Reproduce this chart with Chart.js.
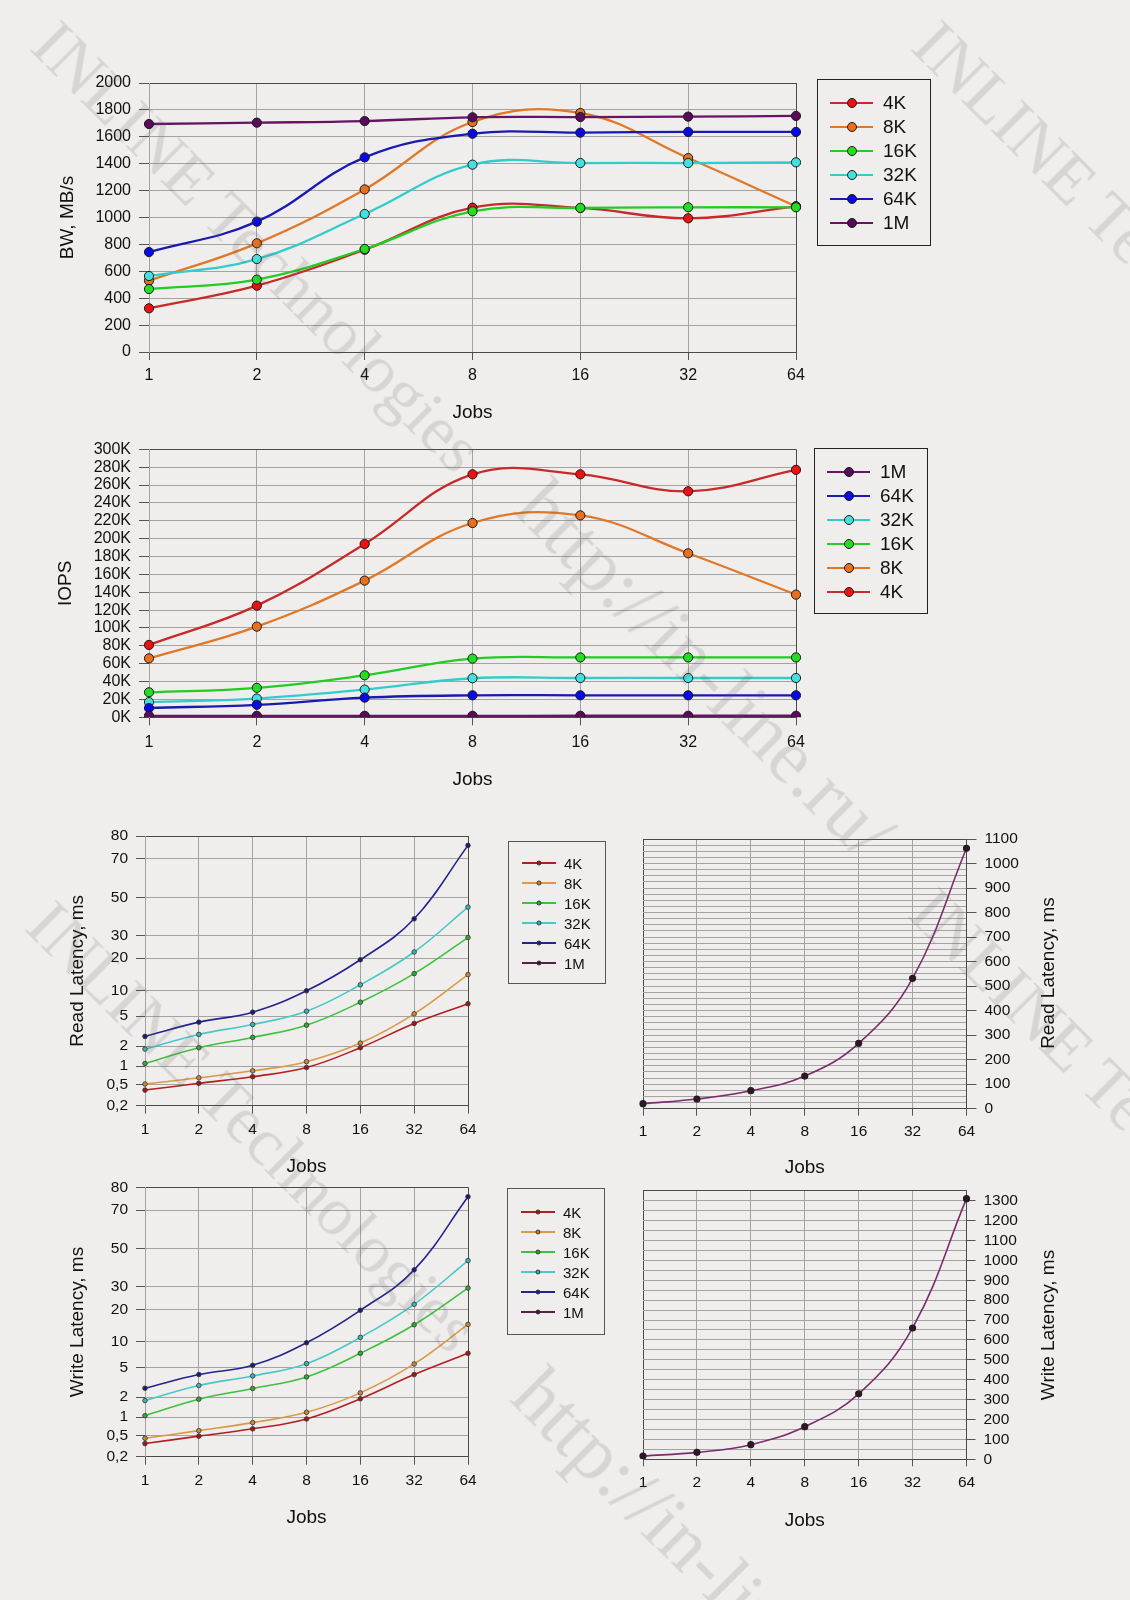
<!DOCTYPE html>
<html lang="en">
<head>
  <meta charset="UTF-8">
  <title>Jobs scaling: BW, IOPS and latency</title>
  <script src="https://cdn.jsdelivr.net/npm/chart.js"></script>
  <style>
    body {
      margin: 0;
      background: #efeeec;
      font-family: 'Liberation Sans', Arial, sans-serif;
      color: #111;
    }
    .page {
      position: relative;
      width: 1130px;
      height: 1600px;
      overflow: hidden;
    }
    canvas {
      position: absolute;
    }
    .legend {
      position: absolute;
      box-sizing: border-box;
      border: 1px solid #222;
    }
    .legend .row {
      display: flex;
      align-items: center;
    }
    .legend .sw {
      position: relative;
      display: inline-block;
    }
    .legend .sw i {
      position: absolute;
      left: 50%;
      top: 50%;
      box-sizing: border-box;
      border-radius: 50%;
      transform: translate(-50%, -50%);
      border: 1px solid #1a1a1a;
    }
    .legend.big { padding: 11px 0 0 12px; font-size: 19px; }
    .legend.big .row { height: 24px; }
    .legend.big .sw { width: 43px; height: 2px; margin-right: 10px; }
    .legend.big .sw i { width: 10px; height: 10px; }
    .legend.small { padding: 11px 0 0 13px; font-size: 15px; border-color: #555; }
    .legend.small .row { height: 20px; }
    .legend.small .sw { width: 34px; height: 2px; margin-right: 8px; }
    .legend.small .sw i { width: 5px; height: 5px; border-width: 0.8px; border-color: #333; }
    .side-title {
      position: absolute;
      font-size: 19px;
      white-space: nowrap;
      transform: translate(-50%, -50%) rotate(-90deg);
    }
    .wm {
      position: absolute;
      transform-origin: 0 0;
      transform: rotate(45deg);
      font-family: 'Liberation Serif', 'DejaVu Serif', serif;
      font-size: 68px;
      color: rgba(90, 90, 90, 0.16);
      white-space: nowrap;
      pointer-events: none;
      z-index: 5;
    }
    .wm.url { font-size: 78px; }
  </style>
</head>
<body>
<div class="page">
  <canvas id="bwChart" width="820" height="400" style="left:0;top:40px"></canvas>
  <canvas id="iopsChart" width="820" height="380" style="left:0;top:420px"></canvas>
  <canvas id="readChart" width="490" height="390" style="left:0;top:800px"></canvas>
  <canvas id="read1mChart" width="460" height="390" style="left:600px;top:800px"></canvas>
  <canvas id="writeChart" width="490" height="390" style="left:0;top:1160px"></canvas>
  <canvas id="write1mChart" width="460" height="400" style="left:600px;top:1160px"></canvas>

  <div class="legend big" id="bwLegend" style="left:817px;top:79px;width:114px;height:167px"></div>
  <div class="legend big" id="iopsLegend" style="left:814px;top:448px;width:114px;height:166px"></div>
  <div class="legend small" id="readLegend" style="left:508px;top:841px;width:98px;height:143px"></div>
  <div class="legend small" id="writeLegend" style="left:507px;top:1188px;width:98px;height:147px;padding-top:13px"></div>

  <div class="side-title" style="left:1048px;top:973px">Read Latency, ms</div>
  <div class="side-title" style="left:1048px;top:1325px">Write Latency, ms</div>

  <div class="wm" style="left:72px;top:5px">INLINE Technologies</div>
  <div class="wm" style="left:953px;top:5px">INLINE Technologies</div>
  <div class="wm url" style="left:562px;top:462px">http://in-line.ru/</div>
  <div class="wm" style="left:67px;top:885px">INLINE Technologies</div>
  <div class="wm" style="left:950px;top:872px">INLINE Technologies</div>
  <div class="wm url" style="left:558px;top:1350px">http://in-line.ru/</div>
</div>

<script>
  const jobs = ['1', '2', '4', '8', '16', '32', '64'];
  const sizes = ['4K', '8K', '16K', '32K', '64K', '1M'];

  // bandwidth, MB/s
  const bw4K = [325, 493, 760, 1073, 1071, 994, 1083];
  const bw8K = [530, 808, 1209, 1710, 1777, 1442, 1083];
  const bw16K = [468, 538, 766, 1046, 1071, 1076, 1076];
  const bw32K = [565, 691, 1026, 1393, 1405, 1405, 1410];
  const bw64K = [743, 969, 1447, 1623, 1631, 1636, 1636];
  const bw1M = [1695, 1705, 1717, 1745, 1747, 1750, 1755];

  // IOPS, thousands
  const iops4K = [81, 125, 194, 272, 272, 253, 277];
  const iops8K = [66, 101.5, 153, 217.5, 226, 183.6, 137.3];
  const iops16K = [28, 33, 47, 65.7, 67, 67, 67];
  const iops32K = [17, 21, 31, 43.7, 44, 44, 44];
  const iops64K = [10.4, 14, 22, 24.6, 24.6, 24.6, 24.6];
  const iops1M = [1.65, 1.66, 1.68, 1.7, 1.71, 1.71, 1.71];

  // read latency, ms
  const rd4K = [0.42, 0.53, 0.71, 0.96, 1.92, 4.27, 7.4];
  const rd8K = [0.51, 0.68, 0.87, 1.22, 2.3, 5.45, 14.9];
  const rd16K = [1.13, 1.92, 2.87, 4.1, 7.7, 15.2, 29];
  const rd32K = [1.85, 3.17, 4.17, 5.96, 11.7, 22.7, 44.9];
  const rd64K = [2.97, 4.4, 5.77, 9.9, 19.5, 38.7, 75.9];
  const rd1M = [20.4, 39.4, 73.4, 133, 266.5, 531.6, 1062];

  // write latency, ms
  const wr4K = [0.385, 0.49, 0.68, 0.95, 1.92, 4.27, 7.7];
  const wr8K = [0.46, 0.63, 0.85, 1.24, 2.43, 5.64, 15.3];
  const wr16K = [1.07, 1.9, 2.87, 4.03, 7.7, 15.2, 29.3];
  const wr32K = [1.83, 3.17, 4.13, 5.7, 11.25, 22.2, 43.7];
  const wr64K = [2.9, 4.27, 5.38, 9.74, 19.7, 38.8, 75.9];
  const wr1M = [16.7, 35, 73.5, 164, 329, 660, 1310];

  // the small latency charts use an uneven hand-made axis
  const latencyTicks = [0.2, 0.5, 1, 2, 5, 10, 20, 30, 50, 70, 80];
  const latencyStops = [0, 0.079, 0.147, 0.221, 0.332, 0.428, 0.547, 0.632, 0.772, 0.915, 1];

  const bigLines = ['#c82a2a', '#e07828', '#22cc22', '#33cccc', '#1a1ab0', '#661466'];
  const bigFills = ['#ee1111', '#e6701e', '#22dd22', '#44e0e0', '#0a0ae6', '#5a0a5a'];
  const smallLines = ['#b02020', '#d99a48', '#40c040', '#48c8c8', '#24248c', '#5c2048'];
  const smallFills = ['#a01818', '#c8883a', '#36a836', '#3cb4b4', '#1a1a7a', '#3a1030'];

  const gridGray = '#a3a3a3';
  const frameGray = '#4a4a4a';

  class StretchScale extends Chart.LinearScale {
    static id = 'stretch';
    static defaults = {};
    determineDataLimits() {
      this.min = latencyTicks[0];
      this.max = latencyTicks[latencyTicks.length - 1];
    }
    buildTicks() {
      return latencyTicks.map(v => ({ value: v }));
    }
    getPixelForValue(value) {
      let i = 1;
      while (i < latencyTicks.length - 1 && value > latencyTicks[i]) i++;
      const a = latencyTicks[i - 1], b = latencyTicks[i];
      const t = (value - a) / (b - a);
      return this.getPixelForDecimal(latencyStops[i - 1] + t * (latencyStops[i] - latencyStops[i - 1]));
    }
    getValueForPixel(pixel) {
      const d = this.getDecimalForPixel(pixel);
      let i = 1;
      while (i < latencyStops.length - 1 && d > latencyStops[i]) i++;
      const t = (d - latencyStops[i - 1]) / (latencyStops[i] - latencyStops[i - 1]);
      return latencyTicks[i - 1] + t * (latencyTicks[i] - latencyTicks[i - 1]);
    }
  }
  Chart.register(StretchScale);

  Chart.defaults.font.family = "'Liberation Sans', Arial, sans-serif";
  Chart.defaults.color = '#111';
  Chart.defaults.animation = false;
  Chart.defaults.responsive = false;
  Chart.defaults.devicePixelRatio = 1;
  Chart.defaults.plugins.legend.display = false;
  Chart.defaults.plugins.tooltip.enabled = false;

  function jobsAxis(o) {
    return {
      type: 'category',
      offset: false,
      grid: {
        offset: false,
        color: c => (c.index === jobs.length - 1 || (o.frameLeft && c.index === 0)) ? frameGray : gridGray,
        tickLength: o.tl,
        tickColor: '#555'
      },
      border: { color: frameGray },
      ticks: { padding: o.pad, font: { size: o.size }, maxRotation: 0, autoSkip: false },
      title: { display: true, text: 'Jobs', font: { size: 19 }, padding: { top: 0, bottom: 0 } },
      afterFit: s => { s.height = o.h; }
    };
  }

  function bigSet(i, data) {
    return {
      label: sizes[i],
      data: data,
      borderColor: bigLines[i],
      borderWidth: 2.3,
      pointBackgroundColor: bigFills[i],
      pointBorderColor: '#1a1a1a',
      pointBorderWidth: 1,
      pointRadius: 4.6,
      tension: 0.4,
      fill: false,
      order: sizes.length - i
    };
  }

  function smallSet(i, data) {
    return {
      label: sizes[i],
      data: data,
      borderColor: smallLines[i],
      borderWidth: 1.6,
      pointBackgroundColor: smallFills[i],
      pointBorderColor: '#333',
      pointBorderWidth: 0.8,
      pointRadius: 2.3,
      tension: 0.4,
      fill: false
    };
  }

  // BW chart
  const bwSeries = [bw4K, bw8K, bw16K, bw32K, bw64K, bw1M];
  new Chart(document.getElementById('bwChart'), {
    type: 'line',
    data: { labels: jobs, datasets: bwSeries.map((d, i) => bigSet(i, d)) },
    options: {
      layout: { padding: { left: 50, top: 43, right: 24, bottom: 15.6 } },
      scales: {
        x: jobsAxis({ tl: 8, pad: 6.4, size: 16, h: 72.4 }),
        y: {
          min: 0, max: 2000,
          ticks: { stepSize: 200, padding: 8, autoSkip: false, font: { size: 16 }, callback: v => String(v) },
          grid: { color: c => c.tick.value === 2000 ? frameGray : gridGray, tickLength: 10, tickColor: '#555' },
          border: { color: gridGray },
          title: { display: true, text: 'BW, MB/s', font: { size: 19 }, padding: { top: 6.6, bottom: 0 } },
          afterFit: s => { s.width = 99; }
        }
      }
    }
  });

  // IOPS chart
  const iopsSeries = [iops4K, iops8K, iops16K, iops32K, iops64K, iops1M];
  new Chart(document.getElementById('iopsChart'), {
    type: 'line',
    data: { labels: jobs, datasets: iopsSeries.map((d, i) => bigSet(i, d)) },
    options: {
      layout: { padding: { left: 50, top: 29.3, right: 24, bottom: 8.6 } },
      scales: {
        x: jobsAxis({ tl: 8, pad: 8.1, size: 16, h: 74.1 }),
        y: {
          min: 0, max: 300,
          ticks: { stepSize: 20, padding: 8, autoSkip: false, font: { size: 16 }, callback: v => v + 'K' },
          grid: { color: c => c.tick.value === 300 ? frameGray : gridGray, tickLength: 10, tickColor: '#555' },
          border: { color: gridGray },
          title: { display: true, text: 'IOPS', font: { size: 19 }, padding: { top: 4.6, bottom: 0 } },
          afterFit: s => { s.width = 99; }
        }
      }
    }
  });

  function latencyChart(id, series, title, pad, xh) {
    new Chart(document.getElementById(id), {
      type: 'line',
      data: { labels: jobs, datasets: series.map((d, i) => smallSet(i, d)).reverse() },
      options: {
        layout: { padding: pad },
        scales: {
          x: jobsAxis({ tl: 8, pad: 7, size: 15.5, h: xh }),
          y: {
            type: 'stretch',
            ticks: { padding: 8, autoSkip: false, font: { size: 15.5 }, callback: v => String(v).replace('.', ',') },
            grid: { color: c => c.tick.value === 80 ? frameGray : gridGray, tickLength: 9, tickColor: '#555' },
            border: { color: gridGray },
            title: { display: true, text: title, font: { size: 19 }, padding: { top: 6.6, bottom: 0 } },
            afterFit: s => { s.width = 85; }
          }
        }
      }
    });
  }

  function oneMegChart(id, data, max, step, pad, xh, tl) {
    new Chart(document.getElementById(id), {
      type: 'line',
      data: {
        labels: jobs,
        datasets: [{
          label: '1M',
          data: data,
          borderColor: '#7b2d6b',
          borderWidth: 1.6,
          pointBackgroundColor: '#2b1a24',
          pointBorderColor: '#2b1a24',
          pointRadius: 2.8,
          tension: 0.4,
          fill: false
        }]
      },
      options: {
        layout: { padding: pad },
        scales: {
          x: jobsAxis({ tl: 7, pad: 7.2, size: 15.5, h: xh, frameLeft: true }),
          y: {
            position: 'right',
            min: 0, max: max,
            ticks: { stepSize: step, autoSkip: false, padding: 8, font: { size: 15.5 }, callback: v => v % 100 === 0 ? String(v) : '' },
            grid: {
              color: c => c.tick.value === max ? frameGray : gridGray,
              tickLength: tl,
              tickColor: c => c.tick.value % 100 === 0 ? '#555' : 'rgba(0,0,0,0)'
            },
            border: { color: frameGray },
            afterFit: s => { s.width = 70; }
          }
        }
      }
    });
  }

  latencyChart('readChart', [rd4K, rd8K, rd16K, rd32K, rd64K], 'Read Latency, ms',
    { left: 60, top: 36, right: 22, bottom: 11.6 }, 72.7);
  latencyChart('writeChart', [wr4K, wr8K, wr16K, wr32K, wr64K], 'Write Latency, ms',
    { left: 60, top: 27.3, right: 22, bottom: 20.6 }, 72.7);

  oneMegChart('read1mChart', rd1M, 1100, 25, { left: 43, top: 39, right: 23.5, bottom: 10.6 }, 70.7, 10);
  oneMegChart('write1mChart', wr1M, 1350, 50, { left: 43, top: 30.7, right: 23.5, bottom: 27.6 }, 73.1, 9);

  function buildLegend(id, order, lines, fills) {
    const box = document.getElementById(id);
    order.forEach(i => {
      const row = document.createElement('div');
      row.className = 'row';
      row.innerHTML = '<span class="sw" style="background:' + lines[i] + '"><i style="background:' + fills[i] + '"></i></span><span>' + sizes[i] + '</span>';
      box.appendChild(row);
    });
  }

  buildLegend('bwLegend', [0, 1, 2, 3, 4, 5], bigLines, bigFills);
  buildLegend('iopsLegend', [5, 4, 3, 2, 1, 0], bigLines, bigFills);
  buildLegend('readLegend', [0, 1, 2, 3, 4, 5], smallLines, smallFills);
  buildLegend('writeLegend', [0, 1, 2, 3, 4, 5], smallLines, smallFills);
</script>
</body>
</html>
